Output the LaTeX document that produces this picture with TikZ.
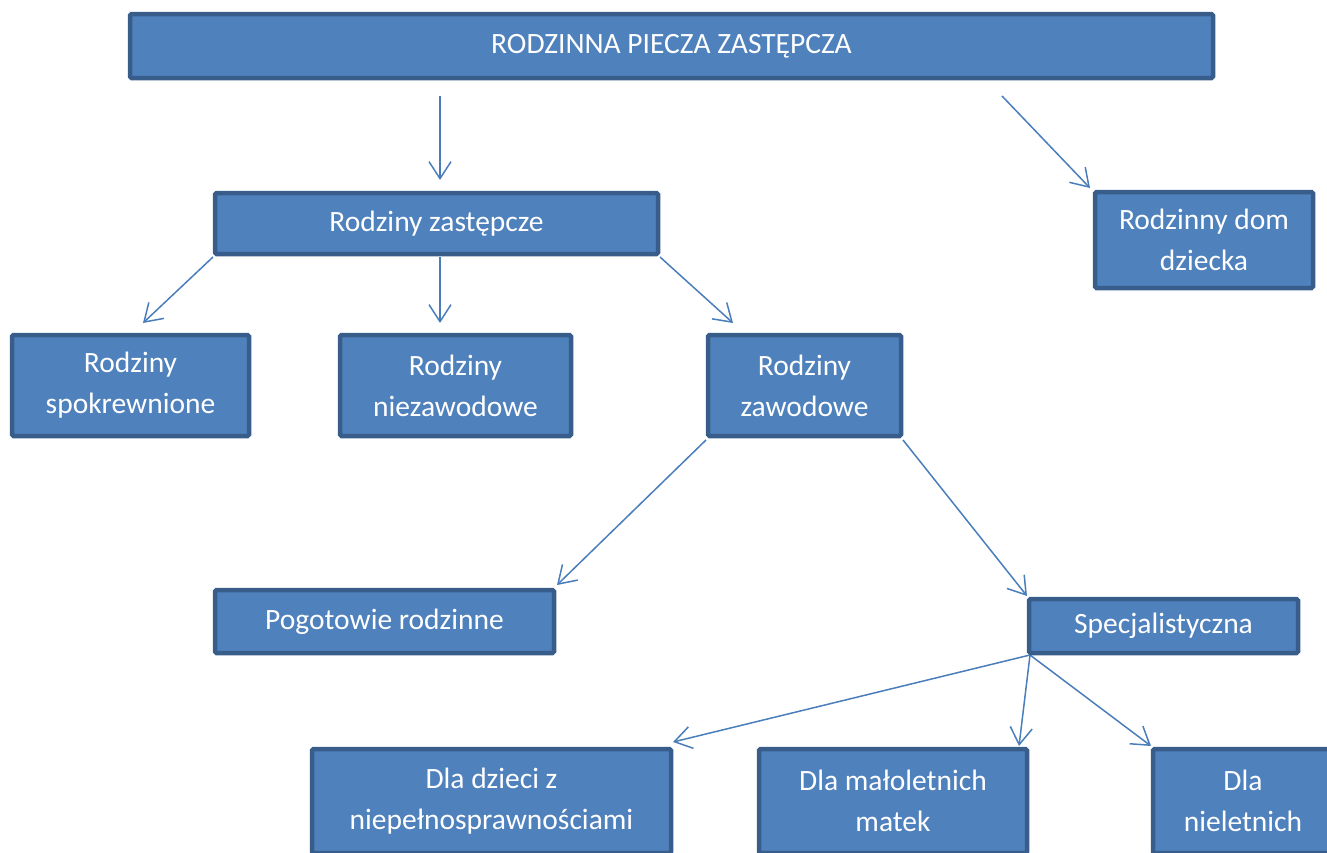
\documentclass[tikz,border=0pt]{standalone}
\usepackage{fontspec}
\setmainfont{Carlito}
\usetikzlibrary{arrows.meta}
\definecolor{boxfill}{HTML}{4F81BD}
\definecolor{boxline}{HTML}{385D8A}
\definecolor{arrowcol}{HTML}{4A7EBB}
\tikzset{
  box/.style={draw=boxline, fill=boxfill, line width=4.5pt, rounded corners=1.5pt,
    text=white, align=center, inner sep=0pt, font=\fontsize{29.5}{41}\selectfont},
  conn/.style={draw=arrowcol, line width=1.5pt,
    -{Straight Barb[length=17pt,width=22pt,line width=1.5pt]}}
}
\begin{document}
\begin{tikzpicture}[x=1pt,y=-1pt]
\useasboundingbox (0,0) rectangle (1327,852);
\clip (0,0) rectangle (1327,852);
% free ends
\coordinate (a1s) at (440,96);   \coordinate (a1e) at (440,180);
\coordinate (a2s) at (1002,96);  \coordinate (a2e) at (1090,188);
\coordinate (e1) at (143,323);
\coordinate (e2) at (440,323);
\coordinate (e3) at (733,323);
\coordinate (e4) at (557,585);
\coordinate (e5) at (1027,596);
\coordinate (e6) at (673,742);
\coordinate (e7) at (1019,746);
\coordinate (e8) at (1151,746);
% connectors
\draw[conn] (a1s) -- (a1e);
\draw[conn] (a2s) -- (a2e);
\draw[conn] (213,257) -- (e1);
\draw[conn] (440,257) -- (e2);
\draw[conn] (660,257) -- (e3);
\draw[conn] (706,440) -- (e4);
\draw[conn] (903,440) -- (e5);
\draw[conn] (1030,655) -- (e6);
\draw[conn] (1030,655) -- (e7);
\draw[conn] (1030,655) -- (e8);
% boxes
\node[box, minimum width=1083, minimum height=64] (top) at (671.5,46) {\raisebox{-2pt}{RODZINNA PIECZA ZASTĘPCZA}};
\node[box, minimum width=443, minimum height=61] (rz) at (436.5,223.5) {Rodziny zastępcze};
\node[box, minimum width=218, minimum height=96] (rdd) at (1204,240) {Rodzinny dom\\dziecka};
\node[box, minimum width=237, minimum height=101] (rs) at (130.5,385.5) {Rodziny\\spokrewnione};
\node[box, minimum width=231, minimum height=101] (rn) at (455.5,385.5) {Rodziny\\niezawodowe};
\node[box, minimum width=193, minimum height=101] (rzw) at (804.5,385.5) {Rodziny\\zawodowe};
\node[box, minimum width=339, minimum height=63] (pr) at (384.5,621.5) {Pogotowie rodzinne};
\node[box, minimum width=269, minimum height=54] (sp) at (1163.5,626) {Specjalistyczna};
\node[box, minimum width=359, minimum height=104] (dd) at (491.5,801) {Dla dzieci z\\niepełnosprawnościami};
\node[box, minimum width=268, minimum height=104] (dm) at (893,801) {Dla małoletnich\\matek};
\node[box, minimum width=180, minimum height=104] (dn) at (1243,801) {Dla\\nieletnich};
\end{tikzpicture}
\end{document}
